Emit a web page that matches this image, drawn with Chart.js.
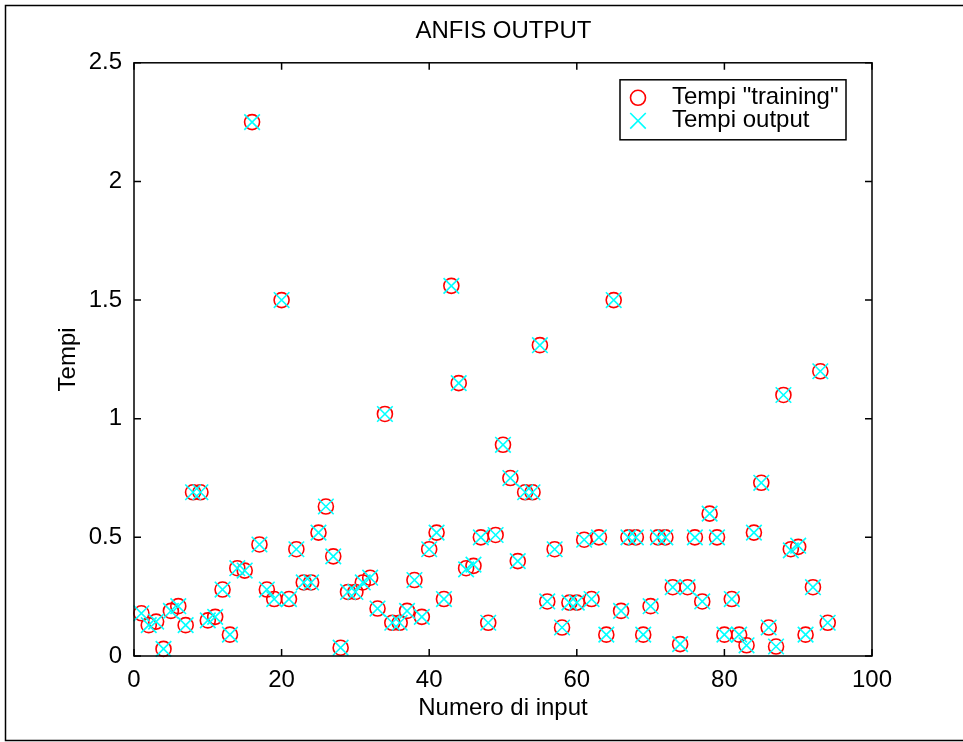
<!DOCTYPE html>
<html>
<head>
<meta charset="utf-8">
<title>ANFIS OUTPUT</title>
<script src="https://cdn.jsdelivr.net/npm/chart.js@4.4.1/dist/chart.umd.min.js"></script>
<style>
  html, body { margin: 0; padding: 0; background: #fff; }
  #wrap { width: 963px; height: 742px; }
</style>
</head>
<body>
<div id="wrap"><canvas id="anfisChart" width="963" height="742"></canvas></div>
<script>
// Numero di input (x)
var inputNumbers = [
    1, 2, 3, 4, 5, 6, 7, 8, 9, 10,
    11, 12, 13, 14, 15, 16, 17, 18, 19, 20,
    21, 22, 23, 24, 25, 26, 27, 28, 29, 30,
    31, 32, 33, 34, 35, 36, 37, 38, 39, 40,
    41, 42, 43, 44, 45, 46, 47, 48, 49, 50,
    51, 52, 53, 54, 55, 56, 57, 58, 59, 60,
    61, 62, 63, 64, 65, 66, 67, 68, 69, 70,
    71, 72, 73, 74, 75, 76, 77, 78, 79, 80,
    81, 82, 83, 84, 85, 86, 87, 88, 89, 90,
    91, 92, 93, 94
];

// Tempi "training" (red circles)
var trainingTimes = [
    0.18, 0.13, 0.145, 0.03, 0.19, 0.21, 0.13, 0.69, 0.69, 0.15,
    0.165, 0.28, 0.09, 0.37, 0.36, 2.25, 0.47, 0.28, 0.24, 1.5,
    0.24, 0.45, 0.31, 0.31, 0.52, 0.63, 0.42, 0.035, 0.27, 0.27,
    0.31, 0.33, 0.2, 1.02, 0.14, 0.14, 0.19, 0.32, 0.165, 0.45,
    0.52, 0.24, 1.56, 1.15, 0.37, 0.38, 0.5, 0.14, 0.51, 0.89,
    0.75, 0.4, 0.69, 0.69, 1.31, 0.23, 0.45, 0.12, 0.225, 0.225,
    0.49, 0.24, 0.5, 0.09, 1.5, 0.19, 0.5, 0.5, 0.09, 0.21,
    0.5, 0.5, 0.29, 0.05, 0.29, 0.5, 0.23, 0.6, 0.5, 0.09,
    0.24, 0.09, 0.045, 0.52, 0.73, 0.12, 0.04, 1.1, 0.45, 0.46,
    0.09, 0.29, 1.2, 0.14
];

// Tempi output (cyan crosses)
var outputTimes = [
    0.18, 0.13, 0.145, 0.03, 0.19, 0.21, 0.13, 0.69, 0.69, 0.15,
    0.165, 0.28, 0.09, 0.37, 0.36, 2.25, 0.47, 0.28, 0.24, 1.5,
    0.24, 0.45, 0.31, 0.31, 0.52, 0.63, 0.42, 0.035, 0.27, 0.27,
    0.31, 0.33, 0.2, 1.02, 0.14, 0.14, 0.19, 0.32, 0.165, 0.45,
    0.52, 0.24, 1.56, 1.15, 0.365, 0.385, 0.5, 0.14, 0.51, 0.89,
    0.75, 0.4, 0.69, 0.69, 1.31, 0.23, 0.45, 0.12, 0.225, 0.225,
    0.49, 0.24, 0.5, 0.09, 1.5, 0.19, 0.5, 0.5, 0.09, 0.21,
    0.5, 0.5, 0.29, 0.05, 0.29, 0.5, 0.23, 0.6, 0.5, 0.09,
    0.24, 0.09, 0.045, 0.52, 0.73, 0.12, 0.04, 1.1, 0.445, 0.465,
    0.09, 0.29, 1.2, 0.14
];

var xTicks = [0, 20, 40, 60, 80, 100];
var yTicks = [0, 0.5, 1, 1.5, 2, 2.5];

var FONT = '"Liberation Sans", Arial, Helvetica, sans-serif';
var FONT_SIZE = 24;

function toPoints(xs, ys) {
    return xs.map(function (x, i) {
        return { x: x, y: ys[i] };
    });
}

// white page + outer figure frame
var figureFrame = {
    id: 'figureFrame',
    beforeDraw: function (chart) {
        var ctx = chart.ctx;
        ctx.save();
        ctx.fillStyle = '#fff';
        ctx.fillRect(0, 0, chart.width, chart.height);
        ctx.strokeStyle = '#000';
        ctx.lineWidth = 1.5;
        ctx.beginPath();
        ctx.moveTo(chart.width, 5.5);
        ctx.lineTo(5.5, 5.5);
        ctx.lineTo(5.5, 740.5);
        ctx.lineTo(chart.width, 740.5);
        ctx.stroke();
        ctx.restore();
    }
};

// box around the axes with inward ticks on all four sides
var axesBox = {
    id: 'axesBox',
    afterDatasetsDraw: function (chart) {
        var ctx = chart.ctx, a = chart.chartArea;
        var xs = chart.scales.x, ys = chart.scales.y;
        var len = 7;
        ctx.save();
        ctx.strokeStyle = '#000';
        ctx.lineWidth = 1.5;
        ctx.strokeRect(a.left, a.top, a.right - a.left, a.bottom - a.top);
        ctx.beginPath();
        xs.ticks.forEach(function (t) {
            var px = xs.getPixelForValue(t.value);
            ctx.moveTo(px, a.bottom); ctx.lineTo(px, a.bottom - len);
            ctx.moveTo(px, a.top); ctx.lineTo(px, a.top + len);
        });
        ys.ticks.forEach(function (t) {
            var py = ys.getPixelForValue(t.value);
            ctx.moveTo(a.left, py); ctx.lineTo(a.left + len, py);
            ctx.moveTo(a.right, py); ctx.lineTo(a.right - len, py);
        });
        ctx.stroke();
        ctx.restore();
    }
};

// legend box in the upper right corner of the axes
var boxLegend = {
    id: 'boxLegend',
    afterDraw: function (chart) {
        var ctx = chart.ctx, a = chart.chartArea;
        var w = 226, h = 60;
        var left = a.right - 26 - w, top = a.top + 17;
        ctx.save();
        ctx.fillStyle = '#fff';
        ctx.fillRect(left, top, w, h);
        ctx.strokeStyle = '#000';
        ctx.lineWidth = 1.5;
        ctx.strokeRect(left, top, w, h);

        var items = [chart.data.datasets[1], chart.data.datasets[0]];
        items.forEach(function (ds, i) {
            var cy = top + 18 + i * 23;
            var cx = left + 18;
            ctx.strokeStyle = ds.borderColor;
            ctx.fillStyle = ds.backgroundColor;
            ctx.lineWidth = ds.borderWidth;
            Chart.helpers.drawPoint(ctx, {
                pointStyle: ds.pointStyle,
                radius: ds.pointRadius,
                borderWidth: ds.borderWidth,
                rotation: 0
            }, cx, cy);
            ctx.fillStyle = '#000';
            ctx.font = FONT_SIZE + 'px ' + FONT;
            ctx.textAlign = 'left';
            ctx.textBaseline = 'middle';
            ctx.fillText(ds.label, left + 52, cy);
        });
        ctx.restore();
    }
};

var ctx = document.getElementById('anfisChart').getContext('2d');
new Chart(ctx, {
    type: 'scatter',
    data: {
        datasets: [
            {
                label: 'Tempi output',
                data: toPoints(inputNumbers, outputTimes),
                pointStyle: 'crossRot',
                pointRadius: 11,
                pointHoverRadius: 11,
                borderColor: '#00ffff',
                backgroundColor: '#00ffff',
                borderWidth: 1.6,
                order: 1,
                clip: false
            },
            {
                label: 'Tempi "training"',
                data: toPoints(inputNumbers, trainingTimes),
                pointStyle: 'circle',
                pointRadius: 7.5,
                pointHoverRadius: 7.5,
                borderColor: '#ff0000',
                backgroundColor: 'rgba(0,0,0,0)',
                borderWidth: 1.6,
                order: 2,
                clip: false
            }
        ]
    },
    options: {
        responsive: false,
        animation: false,
        devicePixelRatio: 1,
        layout: { padding: { left: 44, right: 0, top: 0, bottom: 0 } },
        plugins: {
            legend: { display: false },
            tooltip: { enabled: false },
            title: {
                display: true,
                text: 'ANFIS OUTPUT',
                color: '#000',
                font: { family: FONT, size: FONT_SIZE, weight: 'normal' },
                padding: { top: 17, bottom: 17 }
            }
        },
        scales: {
            x: {
                type: 'linear',
                position: 'bottom',
                min: xTicks[0],
                max: xTicks[xTicks.length - 1],
                afterBuildTicks: function (scale) {
                    scale.ticks = xTicks.map(function (v) { return { value: v }; });
                },
                afterFit: function (scale) { scale.height = 86; },
                grid: { display: false, drawTicks: false },
                border: { display: false },
                ticks: {
                    color: '#000',
                    padding: 10,
                    maxRotation: 0,
                    font: { family: FONT, size: FONT_SIZE },
                    callback: function (value) { return String(value); }
                },
                title: {
                    display: true,
                    text: 'Numero di input',
                    color: '#000',
                    font: { family: FONT, size: FONT_SIZE },
                    padding: { top: 0, bottom: 19 }
                }
            },
            y: {
                type: 'linear',
                position: 'left',
                min: yTicks[0],
                max: yTicks[yTicks.length - 1],
                afterBuildTicks: function (scale) {
                    scale.ticks = yTicks.map(function (v) { return { value: v }; });
                },
                afterFit: function (scale) { scale.width = 90; },
                grid: { display: false, drawTicks: false },
                border: { display: false },
                ticks: {
                    color: '#000',
                    padding: 12,
                    font: { family: FONT, size: FONT_SIZE },
                    callback: function (value) { return String(value); }
                },
                title: {
                    display: true,
                    text: 'Tempi',
                    color: '#000',
                    font: { family: FONT, size: FONT_SIZE },
                    padding: { top: 10, bottom: 0 }
                }
            },
            yRight: {
                type: 'linear',
                position: 'right',
                min: yTicks[0],
                max: yTicks[yTicks.length - 1],
                afterFit: function (scale) { scale.width = 91; },
                grid: { display: false, drawTicks: false },
                border: { display: false },
                ticks: { display: false }
            }
        }
    },
    plugins: [figureFrame, axesBox, boxLegend]
});
</script>
</body>
</html>
